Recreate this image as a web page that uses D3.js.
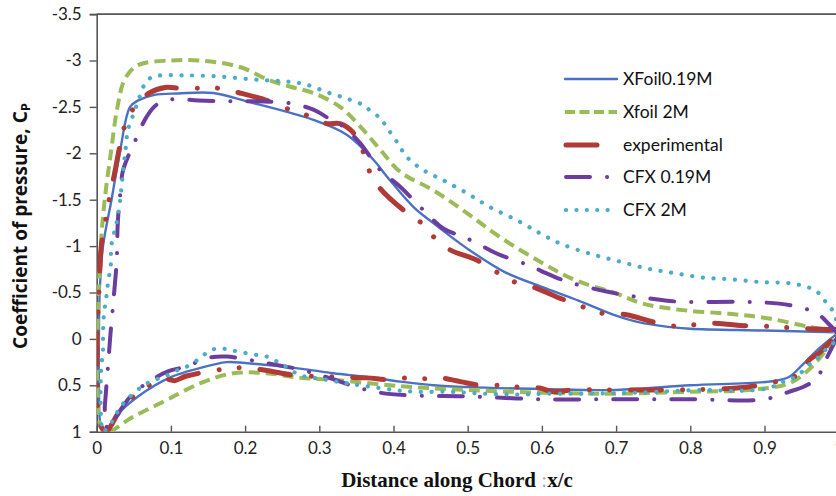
<!DOCTYPE html>
<html>
<head>
<meta charset="utf-8">
<script src="https://cdn.jsdelivr.net/npm/d3@7"></script>
<style>
  html, body { margin: 0; padding: 0; background: #fff; }
  svg { display: block; }
</style>
</head>
<body>
<svg id="chart" width="836" height="496"></svg>
<script>
// Axis ticks
const xTicks = [0, 0.1, 0.2, 0.3, 0.4, 0.5, 0.6, 0.7, 0.8, 0.9, 1];
const yTicks = [-3.5, -3, -2.5, -2, -1.5, -1, -0.5, 0, 0.5, 1];

// Series names (legend order)
const seriesNames = ["XFoil0.19M", "Xfoil 2M", "experimental", "CFX 0.19M", "CFX 2M"];

// Each series is one closed loop: upper surface from trailing edge to leading edge,
// then lower surface back to the trailing edge.

// XFoil at Re 0.19M
const xfoil019X = [1.0, 0.9, 0.8, 0.77, 0.73, 0.7, 0.65, 0.6, 0.55, 0.5, 0.45, 0.427, 0.391, 0.373, 0.337, 0.292, 0.202, 0.157, 0.11, 0.078, 0.056, 0.045, 0.031, 0.02, 0.0085, 0.004, 0.003,
                   0.003, 0.006, 0.012, 0.02, 0.03, 0.0557, 0.1006, 0.1365, 0.175, 0.2, 0.274, 0.319, 0.364, 0.409, 0.454, 0.5, 0.6, 0.7, 0.8, 0.906, 0.933, 0.951, 0.974, 1.0];
const xfoil019Cp = [-0.07, -0.09, -0.11, -0.13, -0.18, -0.25, -0.41, -0.56, -0.72, -0.97, -1.27, -1.42, -1.75, -1.93, -2.2, -2.36, -2.56, -2.65, -2.645, -2.63, -2.57, -2.5, -2.0, -1.5, -1.0, -0.5, 0,
                    0.5, 0.95, 1.0, 0.92, 0.8, 0.62, 0.41, 0.32, 0.25, 0.26, 0.32, 0.37, 0.41, 0.46, 0.5, 0.52, 0.54, 0.55, 0.5, 0.46, 0.41, 0.28, 0.1, -0.07];

// XFoil at Re 2M
const xfoil2X = [1.0, 0.96, 0.906, 0.853, 0.79, 0.736, 0.7, 0.646, 0.6, 0.543, 0.5, 0.454, 0.409, 0.382, 0.355, 0.328, 0.292, 0.26, 0.229, 0.193, 0.14, 0.1, 0.0557, 0.038, 0.028, 0.019, 0.0108, 0.0054, 0.001,
                 0.001, 0.006, 0.015, 0.049, 0.094, 0.139, 0.184, 0.229, 0.274, 0.319, 0.409, 0.5, 0.6, 0.7, 0.8, 0.879, 0.933, 0.96, 0.983, 1.0];
const xfoil2Cp = [-0.08, -0.13, -0.22, -0.27, -0.31, -0.38, -0.49, -0.63, -0.82, -1.1, -1.35, -1.6, -1.8, -2.04, -2.29, -2.5, -2.65, -2.72, -2.8, -2.93, -3.0, -3.0, -2.95, -2.8, -2.5, -2.0, -1.5, -1.0, 0,
                  0.5, 0.95, 1.0, 0.84, 0.66, 0.48, 0.37, 0.37, 0.42, 0.44, 0.51, 0.55, 0.58, 0.59, 0.57, 0.55, 0.48, 0.33, 0.12, -0.08];

// Wind tunnel measurements
const expX = [1.0, 0.957, 0.903, 0.876, 0.831, 0.802, 0.773, 0.746, 0.714, 0.678, 0.654, 0.624, 0.593, 0.561, 0.539, 0.512, 0.476, 0.454, 0.436, 0.413, 0.382, 0.368, 0.359, 0.346, 0.328, 0.31, 0.283, 0.26, 0.233, 0.193, 0.166, 0.139, 0.114, 0.092, 0.071, 0.051, 0.038, 0.031, 0.024, 0.0175, 0.013, 0.0062, 0.003, 0.0005,
              0.001, 0.005, 0.013, 0.0197, 0.029, 0.0557, 0.078, 0.092, 0.105, 0.121, 0.193, 0.229, 0.265, 0.323, 0.364, 0.395, 0.418, 0.445, 0.463, 0.49, 0.517, 0.544, 0.57, 0.597, 0.615, 0.642, 0.7, 0.772, 0.862, 0.906, 0.933, 0.951, 0.96, 0.974, 1.0];
const expCp = [-0.1, -0.11, -0.135, -0.14, -0.17, -0.15, -0.14, -0.19, -0.26, -0.28, -0.35, -0.44, -0.545, -0.62, -0.72, -0.85, -0.96, -1.1, -1.26, -1.39, -1.62, -1.8, -2.02, -2.22, -2.32, -2.32, -2.41, -2.47, -2.56, -2.65, -2.7, -2.7, -2.7, -2.71, -2.65, -2.5, -2.3, -2.07, -1.78, -1.53, -1.32, -1.0, -0.5, 0,
               0.5, 0.93, 1.0, 0.93, 0.8, 0.58, 0.47, 0.43, 0.45, 0.4, 0.31, 0.34, 0.39, 0.41, 0.42, 0.44, 0.42, 0.43, 0.42, 0.46, 0.5, 0.5, 0.52, 0.53, 0.57, 0.55, 0.55, 0.55, 0.53, 0.48, 0.42, 0.37, 0.23, 0.15, -0.08];

// CFX at Re 0.19M
const cfx019X = [1.0, 0.988, 0.97, 0.947, 0.92, 0.867, 0.786, 0.741, 0.714, 0.687, 0.66, 0.633, 0.611, 0.58, 0.539, 0.508, 0.487, 0.467, 0.44, 0.409, 0.382, 0.355, 0.332, 0.312, 0.292, 0.26, 0.216, 0.18, 0.137, 0.1, 0.08, 0.067, 0.051, 0.042, 0.035, 0.031, 0.029, 0.028, 0.027,
                 0.0224, 0.018, 0.0157, 0.0125, 0.011, 0.015, 0.025, 0.049, 0.081, 0.096, 0.119, 0.153, 0.175, 0.193, 0.229, 0.274, 0.301, 0.328, 0.346, 0.382, 0.427, 0.5, 0.6, 0.7, 0.8, 0.9, 0.933, 0.954, 0.97, 0.983, 1.0];
const cfx019Cp = [-0.05, -0.15, -0.28, -0.34, -0.38, -0.4, -0.4, -0.44, -0.47, -0.51, -0.56, -0.62, -0.69, -0.8, -0.92, -1.05, -1.12, -1.19, -1.39, -1.64, -1.82, -2.11, -2.29, -2.38, -2.47, -2.54, -2.56, -2.56, -2.57, -2.58, -2.52, -2.39, -2.12, -1.96, -1.8, -1.5, -1.33, -1.17, -0.85,
                  -0.4, 0.0, 0.25, 0.57, 0.8, 0.97, 0.85, 0.59, 0.41, 0.35, 0.3, 0.2, 0.19, 0.21, 0.26, 0.33, 0.39, 0.46, 0.51, 0.58, 0.61, 0.62, 0.65, 0.65, 0.65, 0.65, 0.57, 0.51, 0.43, 0.22, -0.05];

// CFX at Re 2M
const cfx2X = [1.0, 0.993, 0.984, 0.975, 0.961, 0.934, 0.898, 0.858, 0.818, 0.777, 0.741, 0.702, 0.664, 0.624, 0.597, 0.566, 0.53, 0.499, 0.467, 0.44, 0.418, 0.404, 0.391, 0.382, 0.37, 0.359, 0.337, 0.31, 0.283, 0.26, 0.22, 0.16, 0.114, 0.087, 0.074, 0.065, 0.0557, 0.049, 0.042, 0.039, 0.036, 0.033, 0.028, 0.0197, 0.019, 0.0152, 0.013, 0.0098, 0.0085,
               0.0085, 0.0062, 0.0054, 0.006, 0.0085, 0.02, 0.03, 0.04, 0.06, 0.075, 0.09, 0.105, 0.121, 0.139, 0.15, 0.164, 0.18, 0.193, 0.213, 0.229, 0.251, 0.274, 0.31, 0.337, 0.364, 0.4, 0.431, 0.476, 0.521, 0.566, 0.611, 0.656, 0.727, 0.817, 0.862, 0.906, 0.925, 0.942, 0.96, 0.974, 0.987, 1.0];
const cfx2Cp = [-0.1, -0.29, -0.38, -0.48, -0.55, -0.6, -0.61, -0.64, -0.66, -0.71, -0.76, -0.84, -0.92, -1.03, -1.14, -1.28, -1.42, -1.57, -1.71, -1.82, -1.96, -2.13, -2.28, -2.38, -2.45, -2.52, -2.59, -2.66, -2.74, -2.77, -2.79, -2.83, -2.84, -2.84, -2.82, -2.75, -2.56, -2.41, -2.25, -2.05, -1.85, -1.6, -1.3, -1.0, -0.8, -0.6, -0.45, -0.27, -0.06,
                0.12, 0.3, 0.48, 0.87, 1.0, 0.9, 0.76, 0.66, 0.52, 0.45, 0.41, 0.35, 0.3, 0.21, 0.14, 0.1, 0.12, 0.14, 0.17, 0.19, 0.28, 0.39, 0.44, 0.48, 0.51, 0.55, 0.57, 0.57, 0.59, 0.6, 0.59, 0.59, 0.58, 0.55, 0.56, 0.53, 0.46, 0.41, 0.28, 0.19, 0.08, 0.01];

const series = [
  { name: seriesNames[0], xs: xfoil019X, cps: xfoil019Cp, color: "#4a72c4", width: 2.4, dash: null, cap: "round" },
  { name: seriesNames[1], xs: xfoil2X,   cps: xfoil2Cp,   color: "#9bbb59", width: 4,   dash: "11,6", cap: "butt" },
  { name: seriesNames[2], xs: expX,      cps: expCp,      color: "#b03a35", width: 5,   dash: "31,21,0.1,20,0.1,21", cap: "round" },
  { name: seriesNames[3], xs: cfx019X,   cps: cfx019Cp,   color: "#6c3c9e", width: 4,   dash: "24,17,0.1,17", cap: "round" },
  { name: seriesNames[4], xs: cfx2X,     cps: cfx2Cp,     color: "#4bacc6", width: 4.2, dash: "0.1,10.6", cap: "round" }
];

const svg = d3.select("#chart");
const x = d3.scaleLinear().domain([0, 1]).range([96.7, 838.7]);
const y = d3.scaleLinear().domain([-3.5, 1]).range([14.1, 431.7]);

const tickFont = "Lato, 'Open Sans', sans-serif";

// plot clip
svg.append("defs").append("clipPath").attr("id", "plotClip")
  .append("rect").attr("x", x(0)).attr("y", y(-3.5) - 3).attr("width", x(1) - x(0)).attr("height", y(1) - y(-3.5) + 3);

// top border
svg.append("line")
  .attr("x1", x(0)).attr("x2", x(1)).attr("y1", y(-3.5)).attr("y2", y(-3.5))
  .attr("stroke", "#555").attr("stroke-width", 1.6);

// y axis
const yAxis = svg.append("g")
  .attr("transform", `translate(${x(0)},0)`)
  .call(d3.axisLeft(y).tickValues(yTicks).tickSize(7).tickPadding(8).tickFormat(d => String(d)));
yAxis.select(".domain").attr("stroke", "#555").attr("stroke-width", 1.6);
yAxis.selectAll(".tick line").attr("stroke", "#555").attr("stroke-width", 1.4);
yAxis.selectAll("text").attr("font-family", tickFont).attr("font-size", 17).attr("fill", "#222");

// x axis
const xAxis = svg.append("g")
  .attr("transform", `translate(0,${y(1)})`)
  .call(d3.axisBottom(x).tickValues(xTicks).tickSizeInner(-6).tickSizeOuter(0).tickPadding(10).tickFormat(d => String(d)));
xAxis.select(".domain").attr("stroke", "#555").attr("stroke-width", 1.6);
xAxis.selectAll(".tick line").attr("stroke", "#555").attr("stroke-width", 1.4);
xAxis.selectAll("text").attr("font-family", tickFont).attr("font-size", 17).attr("fill", "#222");

// curves
const line = d3.line()
  .x(d => x(d[0]))
  .y(d => y(d[1]))
  .curve(d3.curveCatmullRom.alpha(0.5));

const plot = svg.append("g").attr("clip-path", "url(#plotClip)");
series.forEach(s => {
  plot.append("path")
    .datum(d3.zip(s.xs, s.cps))
    .attr("d", line)
    .attr("fill", "none")
    .attr("stroke", s.color)
    .attr("stroke-width", s.width)
    .attr("stroke-dasharray", s.dash)
    .attr("stroke-linecap", s.cap)
    .attr("stroke-linejoin", "round");
});

// legend
const legendRows = [79, 112, 145, 177, 210];
const legendSamples = [
  { x1: 565, x2: 617 },
  { x1: 565, x2: 617 },
  { x1: 566, x2: 600 },
  { x1: 566, x2: 610 },
  { x1: 566, x2: 617 }
];
const legend = svg.append("g");
series.forEach((s, i) => {
  const g = legend.append("g").attr("transform", `translate(0,${legendRows[i]})`);
  g.append("line")
    .attr("x1", legendSamples[i].x1).attr("x2", legendSamples[i].x2)
    .attr("y1", 0).attr("y2", 0)
    .attr("stroke", s.color)
    .attr("stroke-width", i === 0 ? 2.4 : s.width)
    .attr("stroke-dasharray", i === 1 ? "10,4.5" : (i === 4 ? "0.1,10.3" : s.dash))
    .attr("stroke-linecap", s.cap);
  g.append("text")
    .attr("x", 623).attr("y", 0).attr("dy", "0.35em")
    .attr("font-family", tickFont).attr("font-size", 17.5).attr("fill", "#111")
    .text(s.name);
});

// axis titles
const yTitle = svg.append("text")
  .attr("transform", "translate(27,226) rotate(-90)")
  .attr("text-anchor", "middle")
  .attr("font-family", "'Open Sans', Lato, sans-serif")
  .attr("font-weight", "bold")
  .attr("font-size", 19)
  .attr("fill", "#111");
yTitle.append("tspan").text("Coefficient of pressure, C");
yTitle.append("tspan").attr("font-size", 13).attr("dy", 3).text("P");

const xTitle = svg.append("text")
  .attr("x", 457).attr("y", 487)
  .attr("text-anchor", "middle")
  .attr("font-family", "'Liberation Serif', 'DejaVu Serif', serif")
  .attr("font-weight", "bold")
  .attr("font-size", 21)
  .attr("fill", "#111");
xTitle.append("tspan").text("Distance along Chord ");
xTitle.append("tspan").attr("font-weight", "normal").attr("fill", "#aaa").text(":");
xTitle.append("tspan").text("x/c");
</script>
</body>
</html>
